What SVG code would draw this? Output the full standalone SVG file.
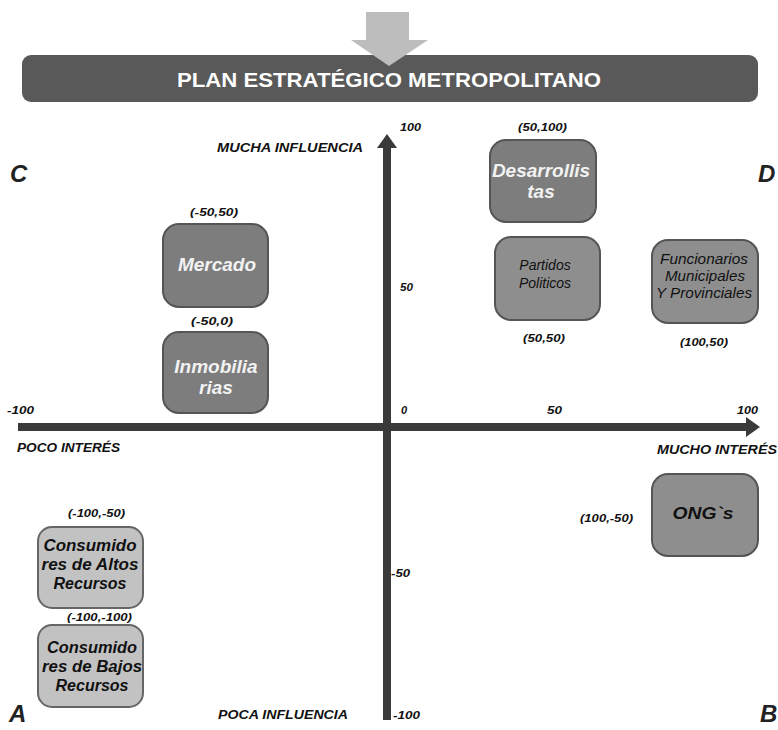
<svg xmlns="http://www.w3.org/2000/svg" width="778" height="730" viewBox="0 0 778 730">
<style>
.lbl{font-family:"Liberation Sans",Arial,sans-serif;font-weight:bold;font-style:italic;fill:#111}
.coord{font-family:"Liberation Sans",Arial,sans-serif;font-weight:bold;font-style:italic;font-size:11px;fill:#111}
.quad{font-family:"Liberation Sans",Arial,sans-serif;font-weight:bold;font-style:italic;font-size:24px;fill:#222}
.dark{fill:#7d7d7d;stroke:#555;stroke-width:2}
.mid{fill:#8e8e8e;stroke:#555;stroke-width:2}
.light{fill:#c2c2c2;stroke:#666;stroke-width:2}
.wt{font-family:"Liberation Sans",Arial,sans-serif;font-weight:bold;font-style:italic;font-size:19px;fill:#f2f2f2;text-anchor:middle}
.bt{font-family:"Liberation Sans",Arial,sans-serif;font-style:italic;font-size:14px;fill:#111;text-anchor:middle}
.bb{font-family:"Liberation Sans",Arial,sans-serif;font-weight:bold;font-style:italic;font-size:16px;fill:#111;text-anchor:middle}
</style>
<rect width="778" height="730" fill="#fff"/>
<g id="banner">
<rect x="22" y="55" width="736" height="47" rx="9" fill="#595959"/>
<polygon points="366,12 409,12 409,40 428,40 389,66 351,40 366,40" fill="#bdbdbd"/>
<text x="389" y="87" text-anchor="middle" font-family="'Liberation Sans',Arial,sans-serif" font-weight="bold" font-size="20" fill="#fff" textLength="424" lengthAdjust="spacingAndGlyphs">PLAN ESTRATÉGICO METROPOLITANO</text>
</g>
<g id="connectors">
<rect x="383" y="146" width="8" height="574" fill="#3a3a3a"/>
<polygon points="377,148 387,134 397,148" fill="#3a3a3a"/>
<rect x="18" y="423" width="730" height="8" fill="#3a3a3a"/>
<polygon points="746,417 760,427 746,437" fill="#3a3a3a"/>
</g>
<g id="axis-labels">
<text class="lbl" x="217" y="152" font-size="12" textLength="146" lengthAdjust="spacingAndGlyphs">MUCHA INFLUENCIA</text>
<text class="lbl" x="218" y="719" font-size="12" textLength="130" lengthAdjust="spacingAndGlyphs">POCA INFLUENCIA</text>
<text class="lbl" x="17" y="452" font-size="12" textLength="103" lengthAdjust="spacingAndGlyphs">POCO INTERÉS</text>
<text class="lbl" x="657" y="454" font-size="12" textLength="120" lengthAdjust="spacingAndGlyphs">MUCHO INTERÉS</text>
<text class="coord" x="400" y="131" textLength="21" lengthAdjust="spacingAndGlyphs">100</text>
<text class="coord" x="400" y="291" textLength="13" lengthAdjust="spacingAndGlyphs">50</text>
<text class="coord" x="401" y="414">0</text>
<text class="coord" x="391" y="577" textLength="19" lengthAdjust="spacingAndGlyphs">-50</text>
<text class="coord" x="393" y="719" textLength="27" lengthAdjust="spacingAndGlyphs">-100</text>
<text class="coord" x="7" y="414" textLength="27" lengthAdjust="spacingAndGlyphs">-100</text>
<text class="coord" x="547" y="414" textLength="15" lengthAdjust="spacingAndGlyphs">50</text>
<text class="coord" x="737" y="414" textLength="21" lengthAdjust="spacingAndGlyphs">100</text>
<text class="quad" x="10" y="182">C</text>
<text class="quad" x="758" y="182">D</text>
<text class="quad" x="9" y="722" font-size="22">A</text>
<text class="quad" x="760" y="722" font-size="22">B</text>
</g>
<g id="mercado">
<text class="coord" x="190" y="216" textLength="48" lengthAdjust="spacingAndGlyphs">(-50,50)</text>
<rect class="dark" x="163" y="224" width="105" height="83" rx="16"/>
<text class="wt" x="217" y="271">Mercado</text>
</g>
<g id="inmobiliarias">
<text class="coord" x="191" y="325" textLength="42" lengthAdjust="spacingAndGlyphs">(-50,0)</text>
<rect class="dark" x="163" y="332" width="105" height="81" rx="16"/>
<text class="wt" x="216" y="373">Inmobilia</text>
<text class="wt" x="216" y="394">rias</text>
</g>
<g id="desarrollistas">
<text class="coord" x="518" y="131" textLength="49" lengthAdjust="spacingAndGlyphs">(50,100)</text>
<rect class="dark" x="490" y="140" width="106" height="82" rx="16"/>
<text class="wt" x="541" y="177">Desarrollis</text>
<text class="wt" x="541" y="198">tas</text>
</g>
<g id="partidos">
<rect class="mid" x="495" y="237" width="105" height="83" rx="16"/>
<text class="bt" x="545" y="270">Partidos</text>
<text class="bt" x="545" y="288">Politicos</text>
<text class="coord" x="523" y="342" textLength="42" lengthAdjust="spacingAndGlyphs">(50,50)</text>
</g>
<g id="funcionarios">
<rect class="mid" x="652" y="240" width="106" height="83" rx="16"/>
<text class="bt" x="704" y="264" textLength="88" lengthAdjust="spacingAndGlyphs">Funcionarios</text>
<text class="bt" x="705" y="281" textLength="80" lengthAdjust="spacingAndGlyphs">Municipales</text>
<text class="bt" x="704" y="298" textLength="96" lengthAdjust="spacingAndGlyphs">Y Provinciales</text>
<text class="coord" x="680" y="346" textLength="48" lengthAdjust="spacingAndGlyphs">(100,50)</text>
</g>
<g id="ongs">
<rect class="mid" x="652" y="474" width="106" height="82" rx="16"/>
<text class="bb" x="703" y="519" font-size="19" textLength="61" lengthAdjust="spacingAndGlyphs">ONG`s</text>
<text class="coord" x="580" y="522" textLength="53" lengthAdjust="spacingAndGlyphs">(100,-50)</text>
</g>
<g id="consumidores-altos">
<text class="coord" x="68" y="517" textLength="57" lengthAdjust="spacingAndGlyphs">(-100,-50)</text>
<rect class="light" x="38" y="527" width="105" height="81" rx="14"/>
<text class="bb" x="90" y="551" textLength="93" lengthAdjust="spacingAndGlyphs">Consumido</text>
<text class="bb" x="90" y="570" textLength="97" lengthAdjust="spacingAndGlyphs">res de Altos</text>
<text class="bb" x="90" y="589">Recursos</text>
</g>
<g id="consumidores-bajos">
<text class="coord" x="67" y="621" textLength="65" lengthAdjust="spacingAndGlyphs">(-100,-100)</text>
<rect class="light" x="38" y="625" width="105" height="82" rx="14"/>
<text class="bb" x="92" y="653" textLength="90" lengthAdjust="spacingAndGlyphs">Consumido</text>
<text class="bb" x="92" y="672" textLength="100" lengthAdjust="spacingAndGlyphs">res de Bajos</text>
<text class="bb" x="92" y="691">Recursos</text>
</g>
</svg>
